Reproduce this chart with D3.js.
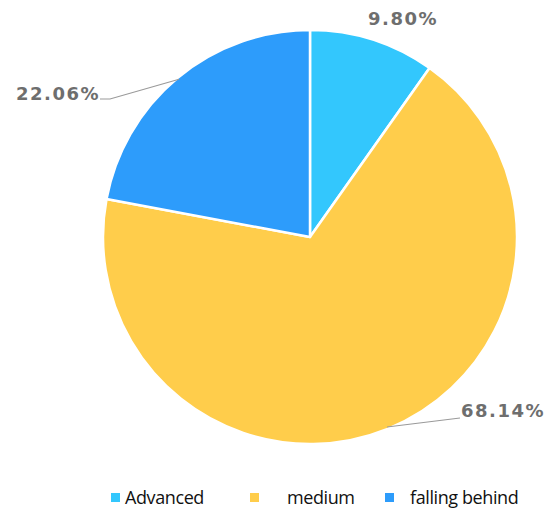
<!DOCTYPE html>
<html>
<head>
<meta charset="utf-8">
<script src="https://cdn.jsdelivr.net/npm/d3@7"></script>
<style>
  html, body { margin: 0; padding: 0; background: #fff; }
  svg { display: block; }
</style>
</head>
<body>
<svg id="chart" width="544" height="512"></svg>
<script>
// Share of students by level
const categories = ["Advanced", "medium", "falling behind"];
const shares = [9.80, 68.14, 22.06];
const labels = ["9.80%", "68.14%", "22.06%"];
const colors = ["#33c7fd", "#ffcd4b", "#2d9cfb"];

const svg = d3.select("#chart");
const cx = 310, cy = 237, radius = 207;

const pie = d3.pie().sort(null).value(d => d)(shares);
const arc = d3.arc().innerRadius(0).outerRadius(radius);

const g = svg.append("g").attr("transform", `translate(${cx},${cy})`);

g.selectAll("path.slice")
  .data(pie)
  .join("path")
  .attr("class", "slice")
  .attr("d", arc)
  .attr("fill", (d, i) => colors[i])
  .attr("stroke", "#fff")
  .attr("stroke-width", 2.5)
  .attr("stroke-linejoin", "round");

// Outside labels with leader lines
const edge = d3.arc().innerRadius(radius - 2).outerRadius(radius - 2);

const labelSpec = [
  { leader: false, anchor: "middle", tx: 403, ty: 18 },
  { leader: true, anchor: "start", end: [460 - cx, 418 - cy], tx: 461, ty: 410 },
  { leader: true, anchor: "end", end: [110 - cx, 99 - cy], tx: 100, ty: 93 }
];

pie.forEach((d, i) => {
  const spec = labelSpec[i];
  const mid = (d.startAngle + d.endAngle) / 2;
  if (spec.leader) {
    const p0 = edge.centroid({ startAngle: mid, endAngle: mid });
    const p1 = spec.end;
    const p2 = [p1[0] + (spec.anchor === "start" ? 0 : -10), p1[1]];
    g.append("polyline")
      .attr("points", [p0, p1, p2].map(p => p.join(",")).join(" "))
      .attr("fill", "none")
      .attr("stroke", "#9a9a9a")
      .attr("stroke-width", 1.2);
  }
  svg.append("text")
    .attr("x", spec.tx)
    .attr("y", spec.ty)
    .attr("text-anchor", spec.anchor)
    .attr("dominant-baseline", "central")
    .attr("font-family", "DejaVu Sans, sans-serif")
    .attr("font-weight", "bold")
    .attr("font-size", 18)
    .attr("letter-spacing", 1.5)
    .attr("fill", "#6e6e6e")
    .text(labels[i]);
});

// Legend
const legendX = [111, 250, 385];
const textX = [125, 287, 410];
const legend = svg.append("g");
categories.forEach((c, i) => {
  legend.append("rect")
    .attr("x", legendX[i])
    .attr("y", 493)
    .attr("width", 9)
    .attr("height", 9)
    .attr("fill", colors[i]);
  legend.append("text")
    .attr("x", textX[i])
    .attr("y", 497)
    .attr("dominant-baseline", "central")
    .attr("font-family", "Open Sans, sans-serif")
    .attr("font-size", 18)
    .attr("letter-spacing", -0.4)
    .attr("fill", "#111")
    .text(c);
});
</script>
</body>
</html>
